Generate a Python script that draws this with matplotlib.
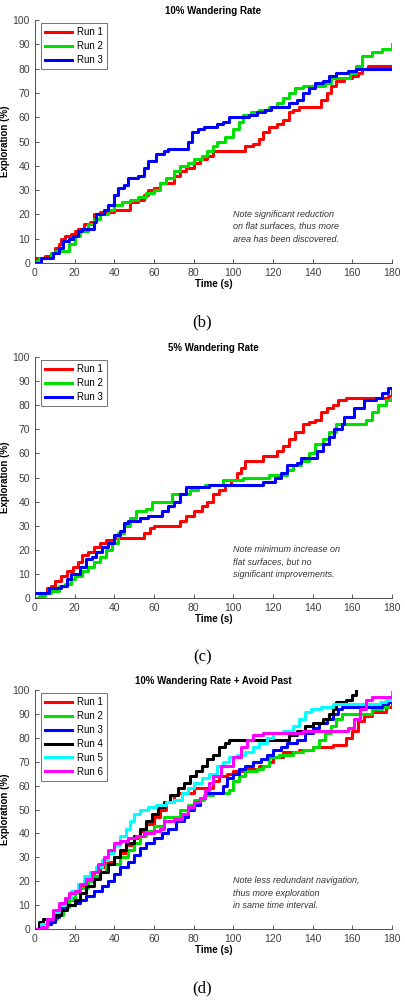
import matplotlib
matplotlib.use("Agg")
import matplotlib.pyplot as plt

# ---- data ----
# panel (b): 10% wandering rate
b_run1_t = [0, 5, 8, 10, 12, 13, 15, 18, 20, 22, 25, 28, 30, 33, 38, 40, 46, 48, 52, 55, 57, 60, 63, 68, 70, 73, 76, 80, 83, 87, 90, 105, 106, 110, 113, 115, 118, 122, 125, 128, 130, 133, 142, 144, 147, 149, 152, 156, 160, 163, 165, 168, 180]
b_run1_y = [2, 3, 4, 6, 8, 10, 11, 12, 13, 14, 16, 17, 20, 21, 21, 22, 22, 25, 26, 28, 30, 31, 33, 33, 36, 38, 39, 41, 43, 44, 46, 46, 48, 49, 51, 54, 56, 57, 59, 62, 63, 64, 64, 67, 70, 73, 75, 76, 77, 78, 80, 81, 81]
b_run2_t = [0, 2, 8, 10, 15, 17, 20, 23, 27, 30, 33, 37, 40, 44, 48, 52, 56, 60, 63, 66, 70, 73, 77, 80, 84, 87, 90, 92, 96, 100, 103, 105, 109, 113, 118, 122, 125, 128, 131, 135, 143, 146, 149, 155, 159, 162, 165, 168, 170, 175, 178, 180]
b_run2_y = [1, 2, 4, 5, 5, 8, 11, 13, 16, 18, 20, 22, 24, 25, 26, 27, 29, 30, 33, 35, 38, 40, 41, 43, 44, 46, 48, 50, 52, 55, 58, 61, 62, 63, 64, 66, 68, 70, 72, 73, 73, 74, 76, 76, 78, 81, 85, 85, 87, 88, 88, 90]
b_run3_t = [0, 3, 9, 12, 14, 17, 19, 22, 24, 28, 30, 31, 35, 37, 40, 42, 45, 47, 52, 55, 57, 61, 65, 67, 75, 77, 79, 82, 85, 92, 95, 98, 105, 108, 112, 116, 119, 125, 128, 132, 135, 138, 141, 145, 148, 152, 158, 162, 180]
b_run3_y = [0, 2, 4, 6, 9, 10, 11, 13, 14, 14, 17, 20, 22, 24, 28, 31, 32, 35, 36, 39, 42, 45, 46, 47, 47, 50, 54, 55, 56, 57, 58, 60, 60, 61, 62, 63, 64, 64, 66, 67, 70, 72, 74, 75, 77, 78, 79, 80, 80]

# panel (c): 5% wandering rate
c_run1_t = [0, 4, 6, 8, 10, 13, 16, 19, 22, 24, 27, 30, 33, 36, 40, 53, 55, 58, 60, 70, 73, 76, 80, 84, 87, 90, 93, 96, 99, 102, 104, 106, 112, 115, 119, 122, 125, 128, 131, 135, 138, 141, 144, 147, 150, 153, 157, 177, 178, 180]
c_run1_y = [0, 2, 4, 5, 7, 9, 11, 13, 15, 18, 19, 21, 23, 24, 25, 25, 27, 29, 30, 30, 32, 34, 36, 38, 40, 43, 45, 47, 49, 52, 54, 57, 57, 59, 59, 61, 63, 66, 69, 72, 73, 74, 77, 79, 80, 82, 83, 83, 84, 86]
c_run2_t = [0, 2, 5, 8, 12, 15, 18, 20, 24, 27, 30, 33, 36, 39, 42, 45, 48, 51, 56, 59, 66, 69, 75, 78, 82, 86, 95, 105, 118, 127, 130, 134, 138, 141, 145, 148, 152, 163, 167, 170, 173, 177, 180]
c_run2_y = [0, 1, 2, 3, 5, 6, 8, 9, 11, 13, 15, 17, 20, 23, 27, 30, 33, 36, 37, 40, 40, 43, 43, 45, 46, 47, 49, 50, 51, 53, 55, 57, 60, 64, 66, 69, 72, 72, 74, 77, 80, 82, 83]
c_run3_t = [0, 7, 13, 16, 18, 23, 26, 29, 31, 34, 37, 40, 43, 45, 47, 53, 57, 64, 67, 70, 73, 76, 88, 115, 121, 124, 127, 132, 134, 142, 145, 148, 151, 155, 156, 161, 166, 172, 175, 178, 180]
c_run3_y = [2, 4, 5, 8, 10, 13, 16, 17, 19, 21, 23, 26, 28, 31, 32, 33, 34, 36, 38, 40, 43, 46, 47, 48, 50, 52, 55, 56, 58, 61, 64, 67, 70, 72, 75, 79, 82, 83, 85, 87, 87]

# panel (d): 10% wandering rate + avoid past
d_run1_t = [0, 3, 7, 10, 13, 16, 20, 23, 27, 30, 33, 36, 40, 43, 46, 50, 53, 56, 60, 63, 66, 70, 72, 80, 90, 93, 97, 100, 105, 113, 118, 120, 125, 133, 140, 150, 157, 160, 163, 166, 170, 177, 180]
d_run1_y = [0, 2, 4, 7, 10, 13, 15, 18, 21, 24, 26, 28, 30, 32, 35, 38, 41, 44, 47, 50, 53, 56, 57, 59, 62, 64, 65, 66, 67, 68, 70, 72, 74, 75, 76, 77, 80, 83, 87, 89, 91, 93, 97]
d_run2_t = [0, 5, 8, 11, 14, 17, 20, 23, 27, 30, 33, 36, 43, 47, 50, 53, 56, 60, 65, 73, 77, 80, 85, 90, 98, 100, 103, 106, 112, 115, 118, 123, 130, 135, 140, 143, 146, 149, 152, 155, 170, 175, 178, 180]
d_run2_y = [0, 2, 4, 6, 9, 12, 15, 17, 20, 22, 24, 27, 30, 33, 36, 39, 41, 43, 47, 50, 52, 54, 56, 57, 58, 62, 64, 66, 67, 68, 72, 73, 74, 75, 76, 79, 82, 85, 88, 90, 92, 93, 96, 99]
d_run3_t = [0, 5, 8, 10, 12, 15, 20, 23, 26, 30, 34, 37, 40, 43, 47, 50, 53, 56, 60, 64, 67, 71, 75, 77, 80, 83, 86, 95, 97, 100, 103, 106, 110, 114, 117, 120, 124, 127, 132, 136, 140, 143, 147, 150, 153, 155, 175, 178, 180]
d_run3_y = [0, 2, 3, 5, 9, 10, 11, 12, 14, 16, 18, 20, 23, 26, 28, 31, 34, 36, 38, 40, 42, 45, 47, 50, 52, 55, 57, 60, 63, 65, 67, 68, 70, 71, 73, 75, 76, 78, 79, 82, 84, 86, 88, 90, 92, 93, 94, 95, 96]
d_run4_t = [0, 2, 4, 10, 13, 16, 20, 23, 26, 30, 33, 37, 40, 43, 46, 50, 53, 56, 59, 62, 65, 68, 72, 75, 78, 81, 84, 87, 90, 93, 96, 98, 125, 128, 132, 136, 140, 145, 148, 150, 152, 157, 160, 162]
d_run4_y = [0, 3, 4, 6, 8, 10, 12, 15, 18, 21, 24, 27, 30, 33, 36, 39, 42, 45, 48, 51, 53, 56, 59, 61, 64, 66, 68, 71, 73, 76, 78, 79, 79, 81, 83, 85, 86, 88, 90, 92, 95, 96, 98, 100]
d_run5_t = [0, 3, 6, 9, 12, 15, 18, 22, 25, 28, 31, 34, 37, 40, 43, 46, 48, 50, 53, 57, 61, 66, 70, 74, 77, 80, 84, 88, 92, 95, 98, 102, 106, 110, 113, 117, 120, 125, 130, 133, 136, 139, 144, 150, 174, 177, 180]
d_run5_y = [0, 2, 4, 7, 10, 13, 16, 19, 22, 24, 26, 29, 32, 35, 39, 42, 45, 48, 50, 51, 52, 53, 54, 57, 59, 61, 63, 65, 68, 70, 72, 73, 74, 76, 78, 80, 82, 83, 85, 88, 91, 92, 93, 94, 95, 96, 97]
d_run6_t = [0, 3, 6, 9, 12, 15, 17, 20, 23, 26, 29, 32, 35, 37, 40, 43, 47, 51, 55, 60, 63, 65, 70, 74, 77, 80, 83, 86, 88, 90, 94, 100, 104, 107, 110, 115, 135, 158, 161, 164, 167, 170, 180]
d_run6_y = [0, 1, 4, 8, 11, 13, 15, 16, 19, 21, 24, 27, 30, 33, 36, 37, 38, 39, 40, 41, 42, 45, 46, 48, 51, 53, 55, 58, 61, 64, 68, 72, 76, 79, 81, 82, 83, 84, 88, 92, 96, 97, 97]

titles = ["10% Wandering Rate", "5% Wandering Rate", "10% Wandering Rate + Avoid Past"]
captions = ["(b)", "(c)", "(d)"]
notes = [
    "Note significant reduction\non flat surfaces, thus more\narea has been discovered.",
    "Note minimum increase on\nflat surfaces, but no\nsignificant improvements.",
    "Note less redundant navigation,\nthus more exploration\nin same time interval.",
]
run_colors = ["#ff0000", "#00e000", "#0000ff", "#000000", "#00ffff", "#ff00ff"]

panels = [
    [(b_run1_t, b_run1_y), (b_run2_t, b_run2_y), (b_run3_t, b_run3_y)],
    [(c_run1_t, c_run1_y), (c_run2_t, c_run2_y), (c_run3_t, c_run3_y)],
    [(d_run1_t, d_run1_y), (d_run2_t, d_run2_y), (d_run3_t, d_run3_y),
     (d_run4_t, d_run4_y), (d_run5_t, d_run5_y), (d_run6_t, d_run6_y)],
]

# axes boxes in figure fractions (left, bottom, width, height)
boxes = [(0.086, 0.737, 0.882, 0.243),
         (0.086, 0.402, 0.882, 0.241),
         (0.086, 0.071, 0.882, 0.239)]
caption_y = [0.678, 0.343, 0.012]

plt.rcParams['font.family'] = ['Liberation Sans', 'DejaVu Sans']

fig = plt.figure(figsize=(4.05, 10), dpi=100)

for i, runs in enumerate(panels):
    ax = fig.add_axes(boxes[i])
    for k, (t, y) in enumerate(runs):
        ax.plot(t, y, drawstyle='steps-post', color=run_colors[k], lw=2.2,
                label="Run %d" % (k + 1))
    ax.set_xlim(0, 180)
    ax.set_ylim(0, 100)
    ax.set_xticks(range(0, 181, 20))
    ax.set_yticks(range(0, 101, 10))
    ax.tick_params(direction='in', labelsize=7.5, colors='#404040', length=3, width=0.6)
    for s in ['top', 'right']:
        ax.spines[s].set_visible(False)
    for s in ['left', 'bottom']:
        ax.spines[s].set_linewidth(0.6)
        ax.spines[s].set_color('#333333')
    ax.set_title(titles[i], fontsize=7, fontweight='bold', pad=4)
    ax.set_xlabel("Time (s)", fontsize=7, fontweight='bold', labelpad=1)
    ax.set_ylabel("Exploration (%)", fontsize=7, fontweight='bold', labelpad=2)
    leg = ax.legend(loc='upper left', fontsize=7, frameon=True, fancybox=False,
                    handlelength=2.8, handletextpad=0.45, borderpad=0.45,
                    labelspacing=0.4, borderaxespad=0,
                    bbox_to_anchor=(0.017, 0.988))
    leg.get_frame().set_edgecolor('#333333')
    leg.get_frame().set_linewidth(0.6)
    ax.text(0.555, 0.22, notes[i], transform=ax.transAxes, fontsize=6.5,
            style='italic', color='#333333', va='top', linespacing=1.5)
    fig.text(0.5, caption_y[i], captions[i], ha='center', va='center',
             fontsize=12, family='Liberation Serif')

fig.savefig("out.png", dpi=100)
